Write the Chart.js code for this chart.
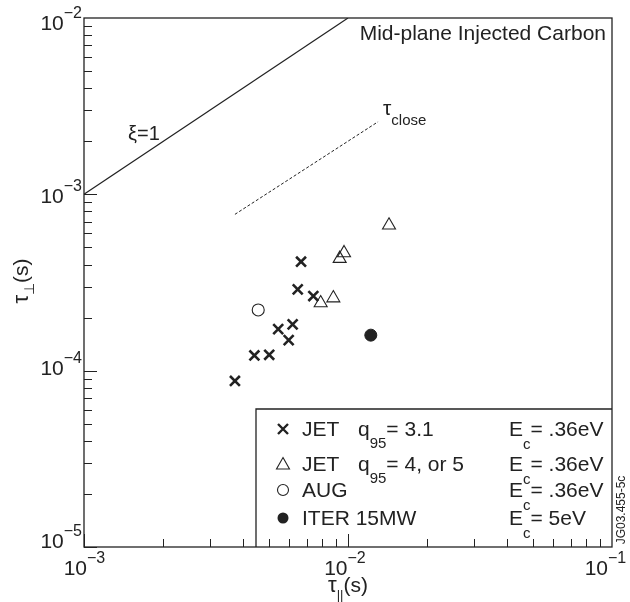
<!DOCTYPE html>
<html>
<head>
<meta charset="utf-8">
<script src="https://cdn.jsdelivr.net/npm/chart.js@4"></script>
<style>
  html, body { margin: 0; padding: 0; background: #fff; }
  canvas { display: block; }
</style>
</head>
<body>
<canvas id="tau" width="630" height="602"></canvas>
<script>
// tau_perp vs tau_par, mid-plane injected carbon

// JET q95 = 3.1 (crosses)
const jetLowQx = [6.64e-3, 6.45e-3, 7.39e-3, 5.44e-3, 6.17e-3, 5.96e-3, 4.42e-3, 5.03e-3, 3.73e-3];
const jetLowQy = [4.15e-4, 2.89e-4, 2.65e-4, 1.72e-4, 1.83e-4, 1.49e-4, 1.22e-4, 1.23e-4, 8.74e-5];
// JET q95 = 4 or 5 (triangles)
const jetHighQx = [1.43e-2, 9.66e-3, 9.30e-3, 8.80e-3, 7.88e-3];
const jetHighQy = [6.68e-4, 4.65e-4, 4.32e-4, 2.58e-4, 2.42e-4];
// AUG
const augX = [4.57e-3];
const augY = [2.21e-4];
// ITER 15MW
const iterX = [1.22e-2];
const iterY = [1.59e-4];
// xi = 1 line and tau_close line
const xiX = [1e-3, 1e-2];
const xiY = [1e-3, 1e-2];
const closeX = [3.73e-3, 1.3e-2];
const closeY = [7.7e-4, 2.58e-3];
// axis decades
const xDecades = [-3, -2, -1];
const yDecades = [-5, -4, -3, -2];

const pts = (xs, ys) => xs.map((x, i) => ({ x: x, y: ys[i] }));

const INK = '#222';
const FONT = '"Liberation Sans", Arial, Helvetica, sans-serif';

// draw a string made of pieces [text, size, dy]
function rich(ctx, x, y, parts, align) {
	let w = 0;
	parts.forEach(p => { ctx.font = p[1] + 'px ' + FONT; w += ctx.measureText(p[0]).width; });
	let cx = align === 'right' ? x - w : (align === 'center' ? x - w / 2 : x);
	parts.forEach(p => {
		ctx.font = p[1] + 'px ' + FONT;
		ctx.fillText(p[0], cx, y + (p[2] || 0));
		cx += ctx.measureText(p[0]).width;
	});
}

function marker(ctx, style, x, y) {
	ctx.save();
	ctx.strokeStyle = INK;
	ctx.fillStyle = INK;
	if (style === 'cross') {
		ctx.lineWidth = 2.4;
		ctx.beginPath();
		ctx.moveTo(x - 5, y - 5); ctx.lineTo(x + 5, y + 5);
		ctx.moveTo(x + 5, y - 5); ctx.lineTo(x - 5, y + 5);
		ctx.stroke();
	} else if (style === 'tri') {
		ctx.lineWidth = 1.1;
		ctx.beginPath();
		ctx.moveTo(x, y - 6.5); ctx.lineTo(x + 6.5, y + 5); ctx.lineTo(x - 6.5, y + 5);
		ctx.closePath();
		ctx.stroke();
	} else {
		ctx.lineWidth = 1.1;
		ctx.beginPath();
		ctx.arc(x, y, 5.5, 0, Math.PI * 2);
		if (style === 'dot') ctx.fill(); else ctx.stroke();
	}
	ctx.restore();
}

const frame = {
	id: 'frame',
	afterDraw(chart) {
		const ctx = chart.ctx;
		const a = chart.chartArea;
		const xs = chart.scales.x, ys = chart.scales.y;
		ctx.save();
		ctx.strokeStyle = INK;
		ctx.fillStyle = INK;

		// box
		ctx.lineWidth = 1.3;
		ctx.strokeRect(a.left, a.top, a.right - a.left, a.bottom - a.top);

		// ticks, drawn inward
		ctx.lineWidth = 1;
		ctx.beginPath();
		for (let d = xDecades[0]; d < xDecades[xDecades.length - 1]; d++) {
			for (let m = 1; m <= 9; m++) {
				const px = Math.round(xs.getPixelForValue(m * Math.pow(10, d))) + 0.5;
				const len = m === 1 ? 13 : 8;
				ctx.moveTo(px, a.bottom); ctx.lineTo(px, a.bottom - len);
			}
		}
		for (let d = yDecades[0]; d < yDecades[yDecades.length - 1]; d++) {
			for (let m = 1; m <= 9; m++) {
				const py = Math.round(ys.getPixelForValue(m * Math.pow(10, d))) + 0.5;
				const len = m === 1 ? 13 : 8;
				ctx.moveTo(a.left, py); ctx.lineTo(a.left + len, py);
			}
		}
		ctx.stroke();

		// tick labels
		ctx.textBaseline = 'alphabetic';
		xDecades.forEach((d, i) => {
			const px = xs.getPixelForValue(Math.pow(10, d));
			ctx.font = '21px ' + FONT;
			const w = ctx.measureText('10').width;
			const right = px + 3 - 3.5 * i;
			rich(ctx, right - w, a.bottom + 28, [['10', 21, 0], ['\u2212' + (-d), 16, -12]]);
		});
		yDecades.forEach((d, i) => {
			const py = ys.getPixelForValue(Math.pow(10, d));
			const off = 1 + 3.6 * i;
			rich(ctx, a.left - 2, py + off, [['10', 21, 0], ['\u2212' + (-d), 16, -12]], 'right');
		});

		// axis titles
		rich(ctx, 348, 592, [['\u03C4', 22, 0], ['||', 13, 7], ['(s)', 21, 0]], 'center');
		ctx.save();
		ctx.translate(28, 281);
		ctx.rotate(-Math.PI / 2);
		rich(ctx, 0, 0, [['\u03C4', 22, 0], ['\u22A5', 14, 6], ['(s)', 21, 0]], 'center');
		ctx.restore();

		// annotations
		ctx.font = '21px ' + FONT;
		ctx.textAlign = 'right';
		ctx.fillText('Mid-plane Injected Carbon', a.right - 6, 40);
		ctx.textAlign = 'left';
		rich(ctx, 128, 140, [['\u03BE=1', 20, 0]]);
		rich(ctx, 383, 115, [['\u03C4', 21, 0], ['close', 15, 10]]);

		// legend box
		const lx = 256, ly = 409;
		ctx.lineWidth = 1.3;
		ctx.beginPath();
		ctx.moveTo(lx, a.bottom); ctx.lineTo(lx, ly); ctx.lineTo(a.right, ly);
		ctx.stroke();

		const rows = [
			{ y: 429, m: 'cross', name: 'JET', q: '= 3.1', e: '= .36eV' },
			{ y: 464, m: 'tri', name: 'JET', q: '= 4, or 5', e: '= .36eV' },
			{ y: 490, m: 'circ', name: 'AUG', q: null, e: '= .36eV' },
			{ y: 518, m: 'dot', name: 'ITER 15MW', q: null, e: '= 5eV' }
		];
		rows.forEach(r => {
			marker(ctx, r.m, 283, r.y);
			const base = r.y + 7;
			rich(ctx, 302, base, [[r.name, 21, 0]]);
			if (r.q) rich(ctx, 358, base, [['q', 21, 0], ['95', 15, 12], [r.q, 21, 0]]);
			rich(ctx, 509, base, [['E', 21, 0], ['c', 15, 13], [r.e, 21, 0]]);
		});

		// figure id
		ctx.save();
		ctx.translate(625, 510);
		ctx.rotate(-Math.PI / 2);
		ctx.font = '12px ' + FONT;
		ctx.textAlign = 'center';
		ctx.fillText('JG03.455-5c', 0, 0);
		ctx.restore();

		ctx.restore();
	}
};

const chart = new Chart(document.getElementById('tau').getContext('2d'), {
	type: 'scatter',
	data: {
		datasets: [
			{ label: 'xi=1', data: pts(xiX, xiY), showLine: true, pointRadius: 0, borderColor: INK, borderWidth: 1.2 },
			{ label: 'tau close', data: pts(closeX, closeY), showLine: true, pointRadius: 0, borderColor: INK, borderWidth: 1, borderDash: [3, 2] },
			{ label: 'JET q95=3.1', data: pts(jetLowQx, jetLowQy), pointStyle: 'crossRot', pointRadius: 7, borderColor: INK, borderWidth: 2.6 },
			{ label: 'JET q95=4,5', data: pts(jetHighQx, jetHighQy), pointStyle: 'triangle', pointRadius: 7.5, borderColor: INK, backgroundColor: 'rgba(0,0,0,0)', borderWidth: 1.1 },
			{ label: 'AUG', data: pts(augX, augY), pointStyle: 'circle', pointRadius: 6, borderColor: INK, backgroundColor: 'rgba(0,0,0,0)', borderWidth: 1.1 },
			{ label: 'ITER 15MW', data: pts(iterX, iterY), pointStyle: 'circle', pointRadius: 6, borderColor: INK, backgroundColor: INK, borderWidth: 1 }
		]
	},
	options: {
		responsive: false,
		animation: false,
		devicePixelRatio: 1,
		layout: { padding: { left: 84, top: 18, right: 18, bottom: 55 } },
		scales: {
			x: { type: 'logarithmic', min: 1e-3, max: 1e-1, display: false },
			y: { type: 'logarithmic', min: 1e-5, max: 1e-2, display: false }
		},
		plugins: {
			legend: { display: false },
			tooltip: { enabled: false }
		}
	},
	plugins: [frame]
});
</script>
</body>
</html>
